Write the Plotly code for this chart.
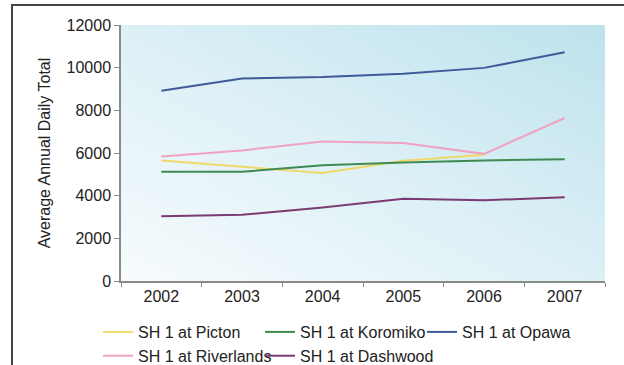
import base64
import plotly.graph_objects as go

# Survey years and average annual daily traffic counts per site
years = ["2002", "2003", "2004", "2005", "2006", "2007"]
picton = [5650, 5340, 5060, 5640, 5920, None]
koromiko = [5120, 5120, 5420, 5560, 5650, 5710]
opawa = [8920, 9490, 9560, 9720, 9990, 10720]
riverlands = [5840, 6120, 6540, 6470, 5960, 7640]
dashwood = [3040, 3100, 3450, 3850, 3780, 3930]

y_ticks = [0, 2000, 4000, 6000, 8000, 10000, 12000]

series = [
    ("SH 1 at Picton", picton, "#f0d96a"),
    ("SH 1 at Koromiko", koromiko, "#3f8a52"),
    ("SH 1 at Opawa", opawa, "#3f5a9a"),
    ("SH 1 at Riverlands", riverlands, "#f0a2c2"),
    ("SH 1 at Dashwood", dashwood, "#7a3a72"),
]

FONT = "Liberation Sans, Arial, sans-serif"

fig = go.Figure()
for name, vals, color in series:
    fig.add_trace(go.Scatter(
        x=years, y=vals, name=name, mode="lines",
        line=dict(color=color, width=2),
    ))

# Diagonal pale-blue gradient behind the plotting area
svg = (
    '<svg xmlns="http://www.w3.org/2000/svg" width="100" height="100" '
    'preserveAspectRatio="none">'
    '<defs><linearGradient id="g" x1="0" y1="1" x2="1" y2="0">'
    '<stop offset="0" stop-color="#f7fbfd"/>'
    '<stop offset="0.5" stop-color="#dcf0f6"/>'
    '<stop offset="1" stop-color="#bde2ec"/>'
    '</linearGradient></defs>'
    '<rect width="100" height="100" fill="url(#g)"/></svg>'
)
bg_src = "data:image/svg+xml;base64," + base64.b64encode(svg.encode()).decode()

L, R, T, B = 121, 19, 25, 84
W, H = 624, 365
pw, ph = W - L - R, H - T - B

fig.update_layout(
    width=W, height=H,
    margin=dict(l=L, r=R, t=T, b=B, autoexpand=False),
    paper_bgcolor="white",
    plot_bgcolor="rgba(0,0,0,0)",
    font=dict(family=FONT, size=16, color="#222222"),
    images=[dict(
        source=bg_src, xref="paper", yref="paper", x=0, y=1,
        sizex=1, sizey=1, sizing="stretch", xanchor="left", yanchor="top",
        layer="below",
    )],
    xaxis=dict(
        type="category", tickson="boundaries", range=[-0.5, 5.5],
        showline=True, linecolor="#8a8a8a", linewidth=1.5,
        ticks="outside", ticklen=4, tickcolor="#8a8a8a",
        showgrid=False, zeroline=False,
        tickfont=dict(size=16, color="#222222"),
    ),
    yaxis=dict(
        range=[0, 12000], tickvals=y_ticks, ticktext=[str(v) for v in y_ticks],
        showline=True, linecolor="#8a8a8a", linewidth=1.5,
        ticks="outside", ticklen=5, tickcolor="#8a8a8a",
        showgrid=False, zeroline=False,
        tickfont=dict(size=16, color="#222222"),
        title=dict(text="Average Annual Daily Total", font=dict(size=16), standoff=12),
    ),
    legend=dict(
        orientation="h", xref="container", yref="container",
        xanchor="left", yanchor="top", entrywidth=117,
        font=dict(size=16), itemwidth=30, bgcolor="rgba(0,0,0,0)",
        x=98 / W, y=1 - 315 / H,
    ),
    shapes=[dict(
        type="rect", xref="paper", yref="paper",
        x0=(12 - L) / pw, x1=(640 - L) / pw,
        y0=(281 - 380) / ph, y1=(281 - 5) / ph,
        line=dict(color="#444444", width=2), fillcolor="rgba(0,0,0,0)",
        layer="below",
    )],
)

fig.write_html("out.html")
